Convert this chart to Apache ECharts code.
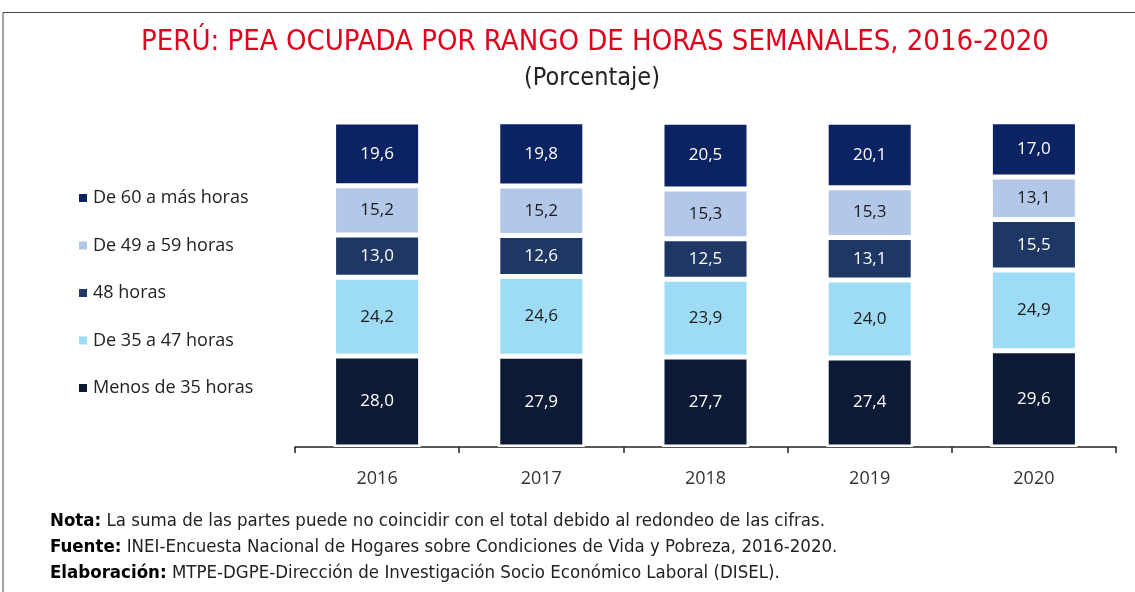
<!DOCTYPE html>
<html>
<head>
<meta charset="utf-8">
<script src="https://cdn.jsdelivr.net/npm/echarts@6/dist/echarts.min.js"></script>
<style>
  html, body { margin: 0; padding: 0; background: #fff; }
  #chart { width: 1135px; height: 592px; }
</style>
</head>
<body>
<div id="chart"></div>
<script>
// Datos
const years = ['2016', '2017', '2018', '2019', '2020'];
const menos35 = [28.0, 27.9, 27.7, 27.4, 29.6];
const de35a47 = [24.2, 24.6, 23.9, 24.0, 24.9];
const h48 = [13.0, 12.6, 12.5, 13.1, 15.5];
const de49a59 = [15.2, 15.2, 15.3, 15.3, 13.1];
const de60mas = [19.6, 19.8, 20.5, 20.1, 17.0];

const chart = echarts.init(document.getElementById('chart'));
const font = 'Open Sans';

// serie apilada con etiqueta centrada
function serie(name, data, color, labelColor) {
    return {
        name: name,
        type: 'bar',
        stack: 'total',
        data: data,
        barWidth: '53%',
        itemStyle: { color: color, borderColor: '#fff', borderWidth: 2.5 },
        label: {
            show: true,
            position: 'inside',
            color: labelColor,
            fontFamily: font,
            fontSize: 17,
            formatter: p => p.value.toFixed(1).replace('.', ',')
        }
    };
}

const option = {
    animation: false,
    backgroundColor: '#fff',
    grid: { left: 295, right: 19, top: 122, bottom: 145 },
    legend: {
        orient: 'vertical',
        left: 72,
        top: 183,
        itemWidth: 10,
        itemHeight: 10,
        itemGap: 27.5,
        icon: 'rect',
        data: ['De 60 a más horas', 'De 49 a 59 horas', '48 horas', 'De 35 a 47 horas', 'Menos de 35 horas'],
        textStyle: { fontFamily: font, fontSize: 18, color: '#222', lineHeight: 20 }
    },
    xAxis: {
        type: 'category',
        data: years,
        axisLine: { lineStyle: { color: '#222', width: 1.5 } },
        axisTick: { show: true, length: 6, lineStyle: { color: '#222', width: 1.5 } },
        axisLabel: { fontFamily: font, fontSize: 18, color: '#333', margin: 23 }
    },
    yAxis: { type: 'value', min: 0, max: 100, show: false },
    series: [
        serie('Menos de 35 horas', menos35, '#0c1a35', '#fff'),
        serie('De 35 a 47 horas', de35a47, '#9ddcf4', '#1a1a1a'),
        serie('48 horas', h48, '#1f3764', '#fff'),
        serie('De 49 a 59 horas', de49a59, '#b3c7e8', '#1a1a1a'),
        serie('De 60 a más horas', de60mas, '#0b2263', '#fff')
    ],
    graphic: [
        {
            type: 'polyline',
            shape: { points: [[3, 592], [3, 12.5], [1135, 12.5]] },
            style: { stroke: '#444', lineWidth: 1, fill: null }
        },
        {
            type: 'text', x: 595, y: 42,
            style: {
                text: 'PERÚ: PEA OCUPADA POR RANGO DE HORAS SEMANALES, 2016-2020',
                fill: '#e2001a', font: '29px "DejaVu Sans Condensed"',
                textAlign: 'center', textVerticalAlign: 'middle'
            }
        },
        {
            type: 'text', x: 592, y: 78,
            style: {
                text: '(Porcentaje)',
                fill: '#222', font: '25px "DejaVu Sans Condensed"',
                textAlign: 'center', textVerticalAlign: 'middle'
            }
        },
        {
            type: 'text', x: 50, y: 508,
            style: {
                text: '{b|Nota:} La suma de las partes puede no coincidir con el total debido al redondeo de las cifras.\n' +
                      '{b|Fuente:} INEI-Encuesta Nacional de Hogares sobre Condiciones de Vida y Pobreza, 2016-2020.\n' +
                      '{b|Elaboración:} MTPE-DGPE-Dirección de Investigación Socio Económico Laboral (DISEL).',
                fill: '#222', font: '18.5px "DejaVu Sans Condensed"', lineHeight: 26,
                rich: {
                    b: { fontWeight: 'bold', fill: '#000', fontFamily: 'DejaVu Sans Condensed', fontSize: 18.5, lineHeight: 26 }
                }
            }
        }
    ]
};

chart.setOption(option);
</script>
</body>
</html>
